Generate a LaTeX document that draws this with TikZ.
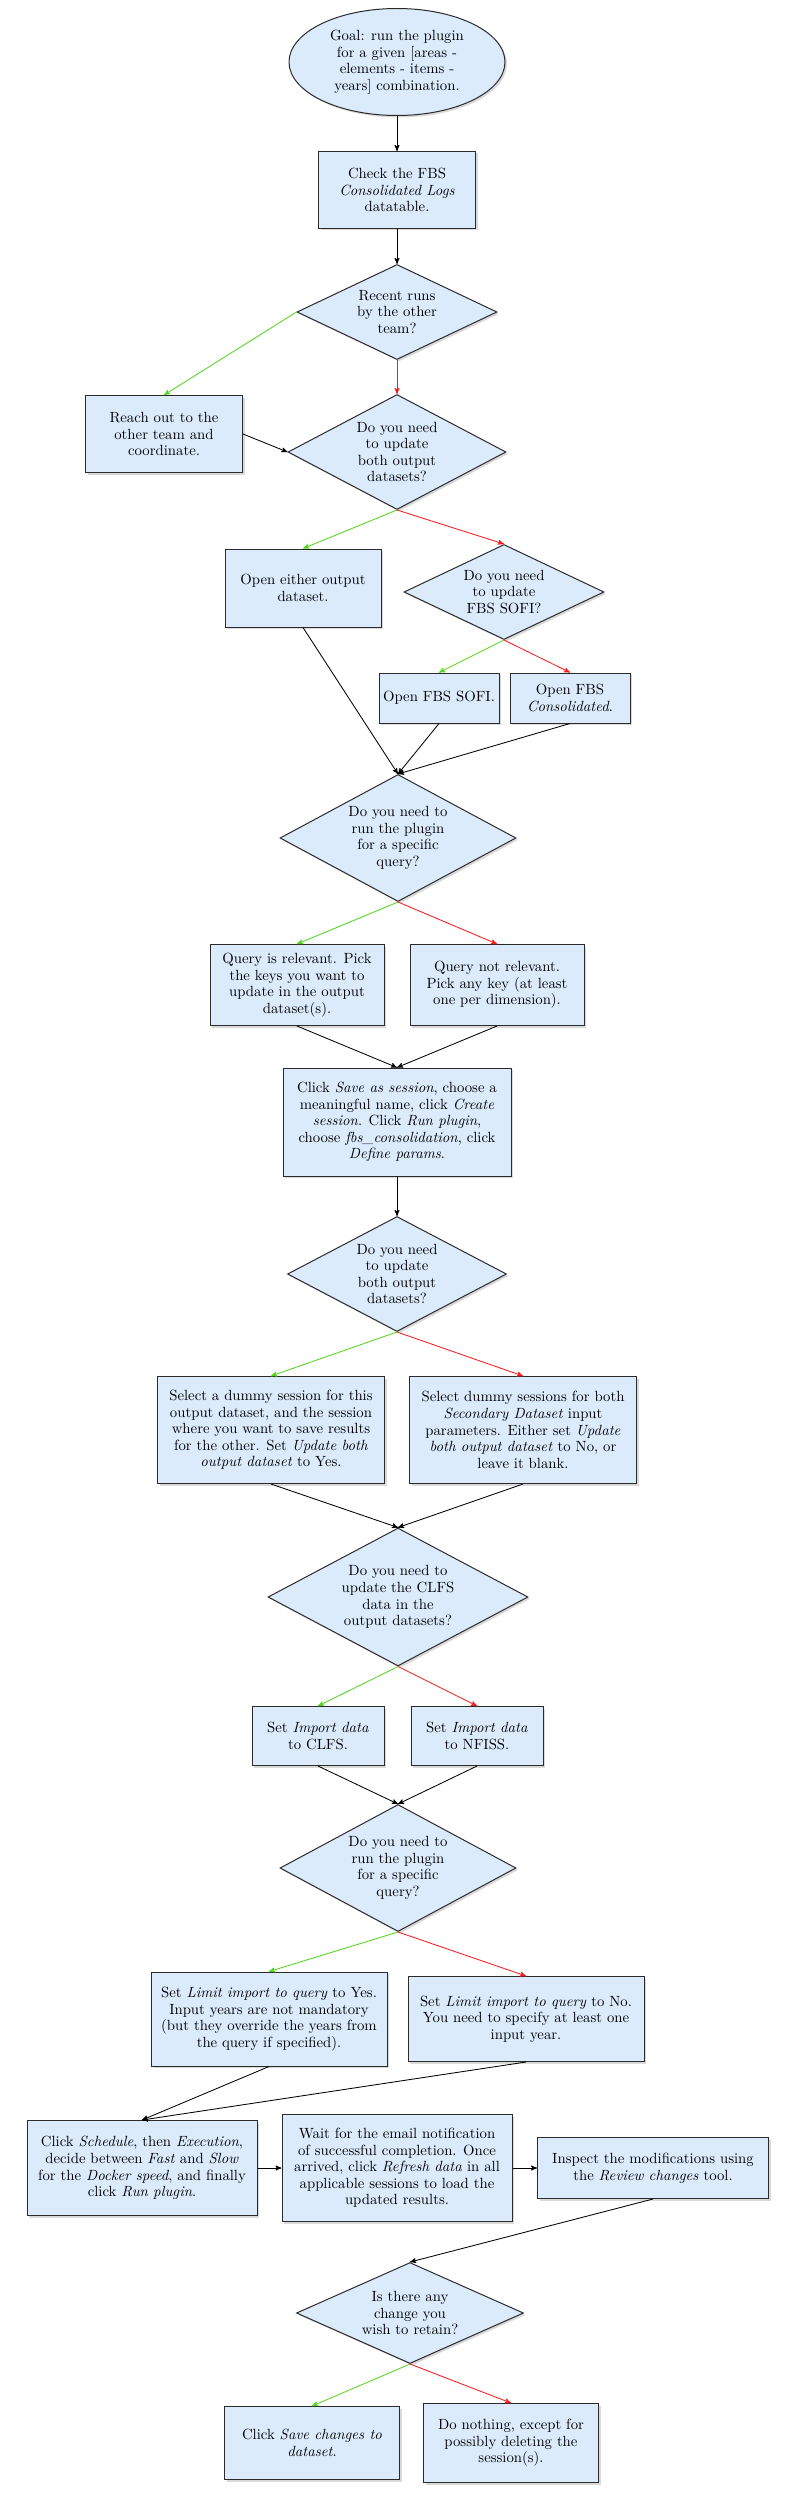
\documentclass[tikz,border=0pt]{standalone}
\usepackage{amsmath}
\usepackage{tikz}
\usetikzlibrary{arrows,shapes,positioning,shadows,calc}

\definecolor{boxfill}{HTML}{DBEBFB}
\definecolor{yesgreen}{HTML}{52D61C}
\definecolor{nored}{HTML}{FF1A1A}
\definecolor{linegray}{HTML}{2B2B2B}

\begin{document}
\begin{tikzpicture}[->,>=stealth',semithick]
\tikzstyle{base}=[draw=linegray, fill=boxfill, align=center, inner sep=1pt, line width=0.25mm,
 font=\fontsize{10.5pt}{11.8pt}\selectfont,
 drop shadow={shadow xshift=0.5mm, shadow yshift=-0.5mm, opacity=0.3}]
\tikzstyle{box}=[base, rectangle]
\tikzstyle{decision}=[base, diamond, inner sep=0pt, shape aspect=2]
\tikzstyle{goal}=[base, ellipse, inner sep=0pt]
\tikzstyle{yesarrow}=[yesgreen]
\tikzstyle{noarrow}=[nored]

\useasboundingbox (0,0) rectangle (19.8,-62.5);

%start
\node[goal, minimum width=5.4cm, minimum height=2.675cm] (goal) at (9.925,-1.55)
 {Goal: run the plugin\\for a given [areas -\\elements - items -\\years] combination.};

\node[box, minimum width=3.925cm, minimum height=1.925cm] (check) at (9.925,-4.75)
 {Check the FBS\\\textit{Consolidated Logs}\\datatable.};

\node[decision, minimum width=5cm, minimum height=2.375cm, shape aspect=2.1] (recent) at (9.925,-7.8)
 {Recent runs\\by the other\\team?};

\node[box, minimum width=3.925cm, minimum height=1.925cm] (reach) at (4.1,-10.85)
 {Reach out to the\\other team and\\coordinate.};

\node[decision, minimum width=5.45cm, minimum height=2.875cm, shape aspect=1.9] (both1) at (9.925,-11.3)
 {Do you need\\to update\\both output\\datasets?};

%open datasets
\node[box, minimum width=3.9cm, minimum height=1.95cm] (either) at (7.575,-14.7)
 {Open either output\\dataset.};

\node[decision, minimum width=5cm, minimum height=2.375cm, shape aspect=2.1] (sofiq) at (12.6,-14.8)
 {Do you need\\to update\\FBS SOFI?};

\node[box, minimum width=3cm, minimum height=1.25cm] (opensofi) at (10.975,-17.45)
 {Open FBS SOFI.};

\node[box, minimum width=3cm, minimum height=1.25cm] (opencons) at (14.25,-17.45)
 {Open FBS\\\textit{Consolidated}.};

\node[decision, minimum width=5.9cm, minimum height=3.175cm, shape aspect=1.86] (query1) at (9.95,-20.95)
 {Do you need to\\run the plugin\\for a specific\\query?};

%keys
\node[box, minimum width=4.35cm, minimum height=2.025cm] (rel) at (7.425,-24.625)
 {Query is relevant. Pick\\the keys you want to\\update in the output\\dataset(s).};

\node[box, minimum width=4.35cm, minimum height=2.025cm] (notrel) at (12.425,-24.625)
 {Query not relevant.\\Pick any key (at least\\one per dimension).};

\node[box, minimum width=5.7cm, minimum height=2.7cm] (session) at (9.925,-28.05)
 {Click \textit{Save as session}, choose a\\meaningful name, click \textit{Create}\\\textit{session}. Click \textit{Run plugin},\\choose \textit{fbs\_consolidation}, click\\\textit{Define params}.};

\node[decision, minimum width=5.475cm, minimum height=2.875cm, shape aspect=1.9] (both2) at (9.925,-31.85)
 {Do you need\\to update\\both output\\datasets?};

%parameters
\node[box, minimum width=5.675cm, minimum height=2.675cm] (dummy) at (6.775,-35.75)
 {Select a dummy session for this\\output dataset, and the session\\where you want to save results\\for the other. Set \textit{Update both}\\\textit{output dataset} to Yes.};

\node[box, minimum width=5.675cm, minimum height=2.675cm] (dummies) at (13.075,-35.75)
 {Select dummy sessions for both\\\textit{Secondary Dataset} input\\parameters. Either set \textit{Update}\\\textit{both output dataset} to No, or\\leave it blank.};

\node[decision, minimum width=6.5cm, minimum height=3.45cm, shape aspect=1.88] (clfsq) at (9.95,-39.925)
 {Do you need to\\update the CLFS\\data in the\\output datasets?};

\node[box, minimum width=3.3cm, minimum height=1.475cm] (clfs) at (7.95,-43.4)
 {Set \textit{Import data}\\to CLFS.};

\node[box, minimum width=3.3cm, minimum height=1.475cm] (nfiss) at (11.925,-43.4)
 {Set \textit{Import data}\\to NFISS.};

\node[decision, minimum width=5.9cm, minimum height=3.175cm, shape aspect=1.86] (query2) at (9.95,-46.7)
 {Do you need to\\run the plugin\\for a specific\\query?};

\node[box, minimum width=5.9cm, minimum height=2.35cm] (limyes) at (6.725,-50.475)
 {Set \textit{Limit import to query} to Yes.\\Input years are not mandatory\\(but they override the years from\\the query if specified).};

\node[box, minimum width=5.9cm, minimum height=2.125cm] (limno) at (13.15,-50.475)
 {Set \textit{Limit import to query} to No.\\You need to specify at least one\\input year.};

%run
\node[box, minimum width=5.75cm, minimum height=2.375cm] (schedule) at (3.55,-54.2)
 {Click \textit{Schedule}, then \textit{Execution},\\decide between \textit{Fast} and \textit{Slow}\\for the \textit{Docker speed}, and finally\\click \textit{Run plugin}.};

\node[box, minimum width=5.75cm, minimum height=2.675cm] (wait) at (9.925,-54.2)
 {Wait for the email notification\\of successful completion. Once\\arrived, click \textit{Refresh data} in all\\applicable sessions to load the\\updated results.};

\node[box, minimum width=5.775cm, minimum height=1.525cm] (inspect) at (16.325,-54.2)
 {Inspect the modifications using\\the \textit{Review changes} tool.};

\node[decision, minimum width=5.675cm, minimum height=2.525cm, shape aspect=2.25] (retain) at (10.25,-57.825)
 {Is there any\\change you\\wish to retain?};

\node[box, minimum width=4.375cm, minimum height=1.825cm] (save) at (7.8,-61.075)
 {Click \textit{Save changes to}\\\textit{dataset}.};

\node[box, minimum width=4.375cm, minimum height=1.975cm] (nothing) at (12.775,-61.075)
 {Do nothing, except for\\possibly deleting the\\session(s).};

%connectors
\path (goal) edge (check);
\path (check) edge (recent);
\path (recent.west) edge[yesarrow] (reach.north);
\path (recent.south) edge[noarrow] (both1.north);
\path (reach.east) edge (both1.west);

\path (both1.south) edge[yesarrow] (either.north);
\path (both1.south) edge[noarrow] (sofiq.north);
\path (sofiq.south) edge[yesarrow] (opensofi.north);
\path (sofiq.south) edge[noarrow] (opencons.north);

\path (either.south) edge (query1.north);
\path (opensofi.south) edge (query1.north);
\path (opencons.south) edge (query1.north);

\path (query1.south) edge[yesarrow] (rel.north);
\path (query1.south) edge[noarrow] (notrel.north);
\path (rel.south) edge (session.north);
\path (notrel.south) edge (session.north);
\path (session) edge (both2);

\path (both2.south) edge[yesarrow] (dummy.north);
\path (both2.south) edge[noarrow] (dummies.north);
\path (dummy.south) edge (clfsq.north);
\path (dummies.south) edge (clfsq.north);

\path (clfsq.south) edge[yesarrow] (clfs.north);
\path (clfsq.south) edge[noarrow] (nfiss.north);
\path (clfs.south) edge (query2.north);
\path (nfiss.south) edge (query2.north);

\path (query2.south) edge[yesarrow] (limyes.north);
\path (query2.south) edge[noarrow] (limno.north);
\path (limyes.south) edge (schedule.north);
\path (limno.south) edge (schedule.north);

\draw (schedule) -- (wait);
\draw (wait) -- (inspect);
\path (inspect.south) edge (retain.north);

\path (retain.south) edge[yesarrow] (save.north);
\path (retain.south) edge[noarrow] (nothing.north);

\end{tikzpicture}
\end{document}
